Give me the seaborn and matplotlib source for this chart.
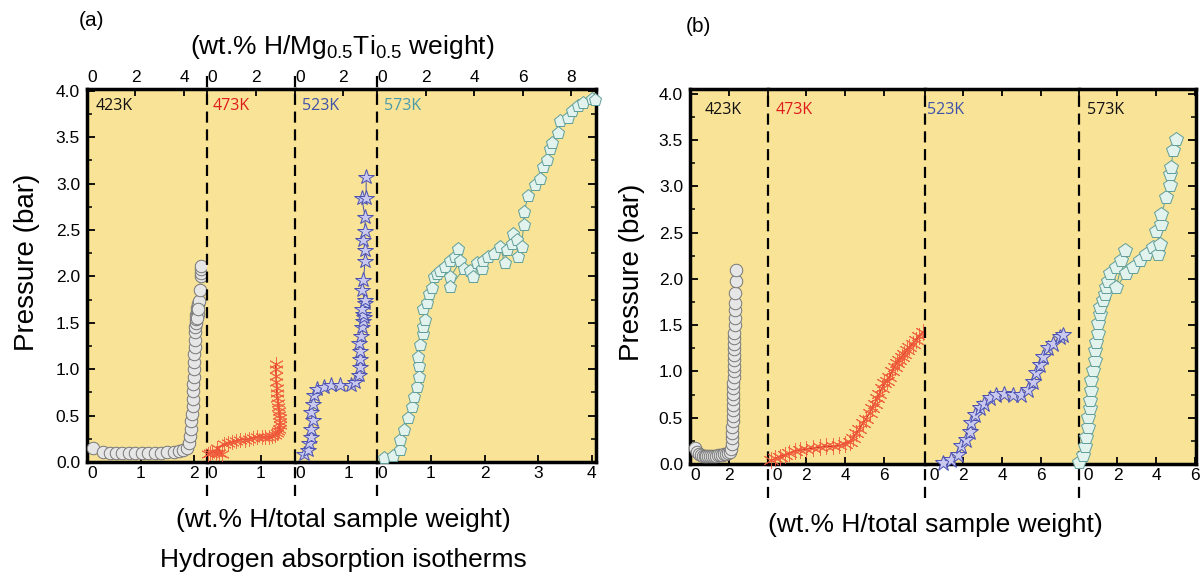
import matplotlib
matplotlib.use('Agg')
import matplotlib.pyplot as plt
import seaborn as sns
from matplotlib.ticker import MultipleLocator, FormatStrFormatter

# ---------------- data (local x of each segment, pressure in bar) ----------------
temps = ['423K', '473K', '523K', '573K']

# panel (a)
a423_x = [0.12, 0.30, 0.42, 0.54, 0.66, 0.78, 0.90, 1.02, 1.14, 1.26, 1.38, 1.50, 1.62, 1.72, 1.80, 1.87,
          1.91, 1.93, 1.94, 1.95, 1.96, 1.97, 1.97, 1.98, 1.98, 1.99, 1.99, 2.00, 2.00, 2.01, 2.01,
          2.02, 2.02, 2.03, 2.03, 2.04, 2.05, 2.06, 2.07, 2.09, 2.08, 2.06, 2.08, 2.10, 2.12, 2.13, 2.13, 2.13]
a423_p = [0.15, 0.11, 0.10, 0.10, 0.10, 0.10, 0.10, 0.10, 0.10, 0.10, 0.10, 0.11, 0.11, 0.12, 0.13, 0.15,
          0.20, 0.28, 0.36, 0.44, 0.52, 0.60, 0.68, 0.76, 0.84, 0.92, 1.00, 1.08, 1.16, 1.24, 1.32,
          1.40, 1.46, 1.50, 1.54, 1.58, 1.62, 1.66, 1.70, 1.74, 1.60, 1.55, 1.65, 1.85, 2.00, 2.04, 2.08, 2.11]

a473_x = [0.02, 0.06, 0.10, 0.16, 0.22, 0.28, 0.18, 0.31, 0.40, 0.47, 0.55, 0.62, 0.70, 0.78, 0.86,
          0.94, 1.02, 1.09, 1.16, 1.22, 1.27, 1.30, 1.33, 1.35, 1.36, 1.36, 1.36, 1.35, 1.34, 1.33,
          1.32, 1.31, 1.30, 1.30, 1.29, 1.29, 1.28, 1.28]
a473_p = [0.09, 0.10, 0.11, 0.10, 0.10, 0.09, 0.15, 0.19, 0.21, 0.22, 0.23, 0.24, 0.24, 0.25, 0.26,
          0.27, 0.27, 0.27, 0.27, 0.28, 0.29, 0.31, 0.33, 0.36, 0.40, 0.43, 0.47, 0.51, 0.55, 0.59,
          0.64, 0.69, 0.74, 0.80, 0.86, 0.93, 1.00, 1.06]

a523_x = [0.17, 0.24, 0.27, 0.30, 0.31, 0.33, 0.30, 0.33, 0.36, 0.42, 0.54, 0.67, 0.85, 1.04, 1.13,
          1.19, 1.21, 1.21, 1.22, 1.19, 1.24, 1.25, 1.27, 1.29, 1.28, 1.31, 1.26, 1.30, 1.25, 1.28,
          1.31, 1.31, 1.28, 1.31, 1.31, 1.25, 1.33, 1.33]
a523_p = [0.09, 0.13, 0.20, 0.27, 0.36, 0.45, 0.54, 0.63, 0.72, 0.79, 0.81, 0.83, 0.83, 0.83, 0.86,
          0.94, 1.02, 1.11, 1.20, 1.28, 1.36, 1.45, 1.52, 1.56, 1.60, 1.71, 1.65, 1.75, 1.85, 1.96,
          2.17, 2.28, 2.39, 2.49, 2.64, 2.84, 2.85, 3.07]

a573_x = [0.12, 0.30, 0.43, 0.42, 0.49, 0.58, 0.65, 0.69, 0.74, 0.77, 0.77, 0.76, 0.79, 0.86, 0.86,
          0.89, 0.86, 0.92, 0.96, 1.02, 1.05, 1.11, 1.17, 1.27, 1.36, 1.45, 1.51, 1.55, 1.36, 1.36,
          1.61, 1.73, 1.79, 1.86, 1.95, 1.98, 2.07, 2.17, 2.29, 2.38, 2.41, 2.51, 2.54, 2.60, 2.63,
          2.69, 2.73, 2.73, 2.82, 2.94, 3.04, 3.10, 3.16, 3.22, 3.25, 3.38, 3.41, 3.56, 3.63, 3.75,
          3.84, 4.00, 4.06]
a573_p = [0.04, 0.06, 0.13, 0.24, 0.34, 0.47, 0.59, 0.70, 0.81, 0.92, 1.03, 1.13, 1.26, 1.38, 1.45,
          1.53, 1.65, 1.71, 1.81, 1.88, 1.99, 2.03, 2.06, 2.10, 2.17, 2.21, 2.30, 2.17, 1.99, 1.89,
          2.08, 2.06, 1.99, 2.14, 2.08, 2.17, 2.21, 2.24, 2.32, 2.14, 2.28, 2.35, 2.46, 2.39, 2.21,
          2.32, 2.55, 2.69, 2.87, 2.98, 3.05, 3.18, 3.25, 3.37, 3.44, 3.55, 3.68, 3.71, 3.78, 3.84,
          3.87, 3.91, 3.90]

# panel (b)
b423_x = [0.26, 0.35, 0.45, 0.55, 0.65, 0.75, 0.85, 0.95, 1.05, 1.15, 1.25, 1.35, 1.45, 1.55, 1.65,
          1.75, 1.85, 1.95, 2.05, 2.12, 2.15, 2.17, 2.18, 2.19, 2.20, 2.21, 2.22, 2.22, 2.23, 2.23,
          2.24, 2.24, 2.25, 2.25, 2.26, 2.26, 2.27, 2.27, 2.28, 2.28, 2.29, 2.30, 2.31, 2.32, 2.33,
          2.34, 2.35, 2.36]
b423_p = [0.17, 0.13, 0.11, 0.10, 0.09, 0.09, 0.09, 0.09, 0.09, 0.09, 0.09, 0.09, 0.10, 0.10, 0.10,
          0.11, 0.11, 0.12, 0.13, 0.16, 0.22, 0.28, 0.34, 0.40, 0.46, 0.52, 0.58, 0.64, 0.70, 0.76,
          0.82, 0.88, 0.94, 1.00, 1.06, 1.12, 1.18, 1.24, 1.30, 1.36, 1.42, 1.50, 1.58, 1.66, 1.74,
          1.85, 1.98, 2.10]

b473_x = [0.19, 0.40, 0.62, 0.88, 1.13, 1.40, 1.65, 2.00, 2.34, 2.68, 3.02, 3.36, 3.71, 3.97, 4.23,
          4.40, 4.57, 4.74, 4.91, 5.08, 5.26, 5.39, 5.52, 5.65, 5.77, 5.90, 6.03, 6.16, 6.29, 6.42,
          6.55, 6.68, 6.80, 6.93, 7.06, 7.19, 7.32, 7.49, 7.66, 7.83, 8.01]
b473_p = [0.04, 0.06, 0.08, 0.10, 0.12, 0.14, 0.15, 0.16, 0.17, 0.18, 0.19, 0.19, 0.20, 0.22, 0.24,
          0.28, 0.33, 0.38, 0.44, 0.49, 0.55, 0.60, 0.65, 0.71, 0.76, 0.82, 0.87, 0.90, 0.94, 1.00,
          1.05, 1.09, 1.12, 1.16, 1.19, 1.23, 1.26, 1.30, 1.34, 1.38, 1.43]

b523_x = [0.94, 1.38, 1.72, 1.89, 2.15, 2.32, 2.41, 2.58, 2.84, 3.09, 3.35, 3.70, 4.12, 4.55, 4.98,
          5.33, 5.59, 5.76, 5.93, 6.10, 6.36, 6.61, 6.96, 7.13]
b523_p = [0.01, 0.04, 0.10, 0.19, 0.26, 0.35, 0.44, 0.53, 0.60, 0.65, 0.71, 0.74, 0.76, 0.74, 0.74,
          0.80, 0.89, 0.98, 1.07, 1.16, 1.25, 1.30, 1.37, 1.39]

b573_x = [0.00, 0.22, 0.31, 0.40, 0.48, 0.48, 0.57, 0.57, 0.65, 0.65, 0.74, 0.82, 0.82, 0.91, 0.99,
          0.99, 1.08, 1.08, 1.25, 1.34, 1.43, 1.51, 1.60, 1.94, 2.20, 2.37, 1.94, 2.46, 2.80, 3.14,
          3.49, 3.83, 4.09, 4.18, 4.00, 4.26, 4.26, 4.52, 4.69, 4.69, 4.78, 4.86, 5.03]
b573_p = [0.02, 0.10, 0.19, 0.29, 0.40, 0.51, 0.60, 0.69, 0.80, 0.91, 1.01, 1.12, 1.23, 1.32, 1.41,
          1.52, 1.62, 1.70, 1.77, 1.84, 1.91, 1.98, 2.06, 2.13, 2.20, 2.31, 1.91, 2.06, 2.13, 2.20,
          2.27, 2.34, 2.27, 2.38, 2.52, 2.59, 2.70, 2.88, 3.01, 3.13, 3.21, 3.39, 3.51]

# segment extents and ticks
a_ranges = [2.24, 1.64, 1.54, 4.08]
a_bottom_ticks = [[0, 1, 2], [0, 1], [0, 1], [0, 1, 2, 3, 4]]
a_top_ticks = [[0, 2, 4], [0, 2], [0, 2], [0, 2, 4, 6, 8]]
top_factor = 2.21
b_ranges = [4.0, 8.1, 7.95, 6.05]
b_ticks = [[0, 2], [0, 2, 4, 6], [0, 2, 4, 6], [0, 2, 4, 6]]

# ---------------- style ----------------
sns.set_style('ticks')
plt.rcParams['font.family'] = ['Liberation Sans', 'DejaVu Sans']
plt.rcParams['mathtext.default'] = 'regular'
for k in ['text.color', 'axes.labelcolor', 'xtick.color', 'ytick.color', 'axes.edgecolor']:
    plt.rcParams[k] = 'black'

BG = '#F8E397'
fig = plt.figure(figsize=(12.02, 5.76), dpi=100)
W, H = 1202.0, 576.0
TICK_FS = 12.5


def build_panel(box, ranges, dash_top):
    left, right, bottom, top = box
    total = sum(ranges)
    axes = []
    x0 = left
    n = len(ranges)
    for i, r in enumerate(ranges):
        w = (right - left) * r / total
        ax = fig.add_axes([x0, bottom, w, top - bottom])
        x0 += w
        ax.set_facecolor(BG)
        for s in ['top', 'bottom', 'left', 'right']:
            ax.spines[s].set_linewidth(2.5)
            ax.spines[s].set_color('black')
        ax.spines['left'].set_visible(i == 0)
        ax.spines['right'].set_visible(i == n - 1)
        if i > 0:
            ax.axvline(0, ymin=-0.09, ymax=dash_top, color='black', lw=1.6,
                       ls=(0, (5, 3)), clip_on=False, zorder=1)
        axes.append(ax)
    return axes


def finish(ax, i, n, r, ylim):
    ax.set_xlim(0, r)
    ax.set_ylim(*ylim)
    ax.set_xlabel('')
    ax.set_ylabel('')
    ax.yaxis.set_major_locator(MultipleLocator(0.5))
    ax.yaxis.set_minor_locator(MultipleLocator(0.25))
    ax.yaxis.set_major_formatter(FormatStrFormatter('%.1f'))
    ax.tick_params(axis='y', which='both', direction='in', left=(i == 0), right=(i == n - 1),
                   labelleft=(i == 0), labelright=False, colors='black')
    ax.tick_params(axis='y', which='major', length=6, width=1.3, labelsize=TICK_FS, pad=5)
    ax.tick_params(axis='y', which='minor', length=3.5, width=1.1)
    ax.tick_params(axis='x', which='both', direction='in', length=5, width=1.3,
                   labelsize=TICK_FS, pad=3, colors='black')


def draw(ax, xs, ys, marker, ms, fc, ec, lc, lw=0.8, mew=0.8, alpha=1.0):
    sns.lineplot(x=xs, y=ys, ax=ax, sort=False, estimator=None, color=lc, lw=lw,
                 marker=marker, markersize=ms, markerfacecolor=fc, markeredgecolor=ec,
                 markeredgewidth=mew, alpha=alpha, clip_on=False, zorder=3)


C_FC, C_EC = '#e6e6e6', '#777777'
S_FC, S_EC = '#c9c9f0', '#4a50b0'
P_FC, P_EC = '#e2f2ec', '#5f9e9a'
R_EC, R_LC = '#f0583a', '#cc1111'
ASTER = (6, 2, 0)

# ---------------- panel (a) ----------------
a_box = (87 / W, 596 / W, 1 - 462 / H, 1 - 89 / H)
a_ylim = (0, 4.02)
axes_a = build_panel(a_box, a_ranges, 1.045)
draw(axes_a[0], a423_x, a423_p, 'o', 9, C_FC, C_EC, '#8a8a8a', lw=0.6, mew=0.7)
draw(axes_a[1], a473_x, a473_p, ASTER, 10.5, 'none', R_EC, R_LC, lw=1.0, mew=0.7, alpha=0.85)
draw(axes_a[2], a523_x, a523_p, '*', 11.5, S_FC, S_EC, S_EC, lw=0.7, mew=0.7)
draw(axes_a[3], a573_x, a573_p, 'p', 9.5, P_FC, P_EC, P_EC, lw=0.7, mew=0.7)

a_label_colors = ['#111111', '#e01b1b', '#3f52a8', '#4b9aaa']
a_label_x = [0.17, 0.11, 0.13, 0.13]
n = len(axes_a)
for i, ax in enumerate(axes_a):
    finish(ax, i, n, a_ranges[i], a_ylim)
    ticks = a_bottom_ticks[i]
    ax.set_xticks(ticks, [str(t) for t in ticks])
    ax.get_xticklabels()[0].set_ha('left')
    sec = ax.secondary_xaxis('top', functions=(lambda x: x * top_factor, lambda x: x / top_factor))
    tt = a_top_ticks[i]
    sec.set_xticks(tt, [str(t) for t in tt])
    sec.tick_params(direction='in', length=5, width=1.3, labelsize=TICK_FS, pad=3, colors='black')
    sec.spines['top'].set_visible(False)
    sec.get_xticklabels()[0].set_ha('left')
    ax.text(a_label_x[i], 3.84, temps[i], color=a_label_colors[i], fontsize=11.5,
            family=['Open Sans', 'DejaVu Sans'], ha='left', va='center')
# red tick at 1 in 473K segment
axes_a[1].xaxis.get_major_ticks()[1].tick1line.set_color('#e01b1b')

# ---------------- panel (b) ----------------
b_box = (690 / W, 1196 / W, 1 - 464 / H, 1 - 89 / H)
b_ylim = (0, 4.05)
axes_b = build_panel(b_box, b_ranges, 1.0)
draw(axes_b[0], b423_x, b423_p, 'o', 9, C_FC, C_EC, '#8a8a8a', lw=0.6, mew=0.7)
draw(axes_b[1], b473_x, b473_p, ASTER, 12, 'none', R_EC, R_LC, lw=1.0, mew=0.7, alpha=0.85)
draw(axes_b[2], b523_x, b523_p, '*', 12, S_FC, S_EC, S_EC, lw=0.7, mew=0.7)
draw(axes_b[3], b573_x, b573_p, 'p', 10, P_FC, P_EC, P_EC, lw=0.7, mew=0.7)

b_label_colors = ['#111111', '#e01b1b', '#3f52a8', '#111111']
b_label_x = [0.77, 0.41, 0.10, 0.41]
n = len(axes_b)
for i, ax in enumerate(axes_b):
    finish(ax, i, n, b_ranges[i], b_ylim)
    ticks = b_ticks[i]
    labels = [str(t) for t in ticks]
    if i > 0:
        labels[0] = ' 0'
    ax.set_xticks(ticks, labels)
    ax.get_xticklabels()[0].set_ha('left')
    ax.tick_params(axis='x', top=True, labeltop=False)
    ax.text(b_label_x[i], 3.82, temps[i], color=b_label_colors[i], fontsize=11.5,
            family=['Open Sans', 'DejaVu Sans'], ha='left', va='center')

# ---------------- texts ----------------
fig.text(92 / W, 1 - 20 / H, '(a)', fontsize=15, ha='center', va='center')
fig.text(698 / W, 1 - 27 / H, '(b)', fontsize=15, ha='center', va='center')
fig.text(342 / W, 1 - 47 / H, '(wt.% H/Mg$_{0.5}$Ti$_{0.5}$ weight)', fontsize=19,
         ha='center', va='center')
fig.text(343 / W, 1 - 520 / H, '(wt.% H/total sample weight)', fontsize=19,
         ha='center', va='center')
fig.text(343 / W, 1 - 560 / H, 'Hydrogen absorption isotherms', fontsize=19,
         ha='center', va='center')
fig.text(935 / W, 1 - 525 / H, '(wt.% H/total sample weight)', fontsize=19,
         ha='center', va='center')
fig.text(27 / W, 1 - 262 / H, 'Pressure (bar)', fontsize=20, rotation=90,
         ha='center', va='center')
fig.text(632 / W, 1 - 272 / H, 'Pressure (bar)', fontsize=20, rotation=90,
         ha='center', va='center')

fig.savefig('out.png', dpi=100, facecolor='white')
